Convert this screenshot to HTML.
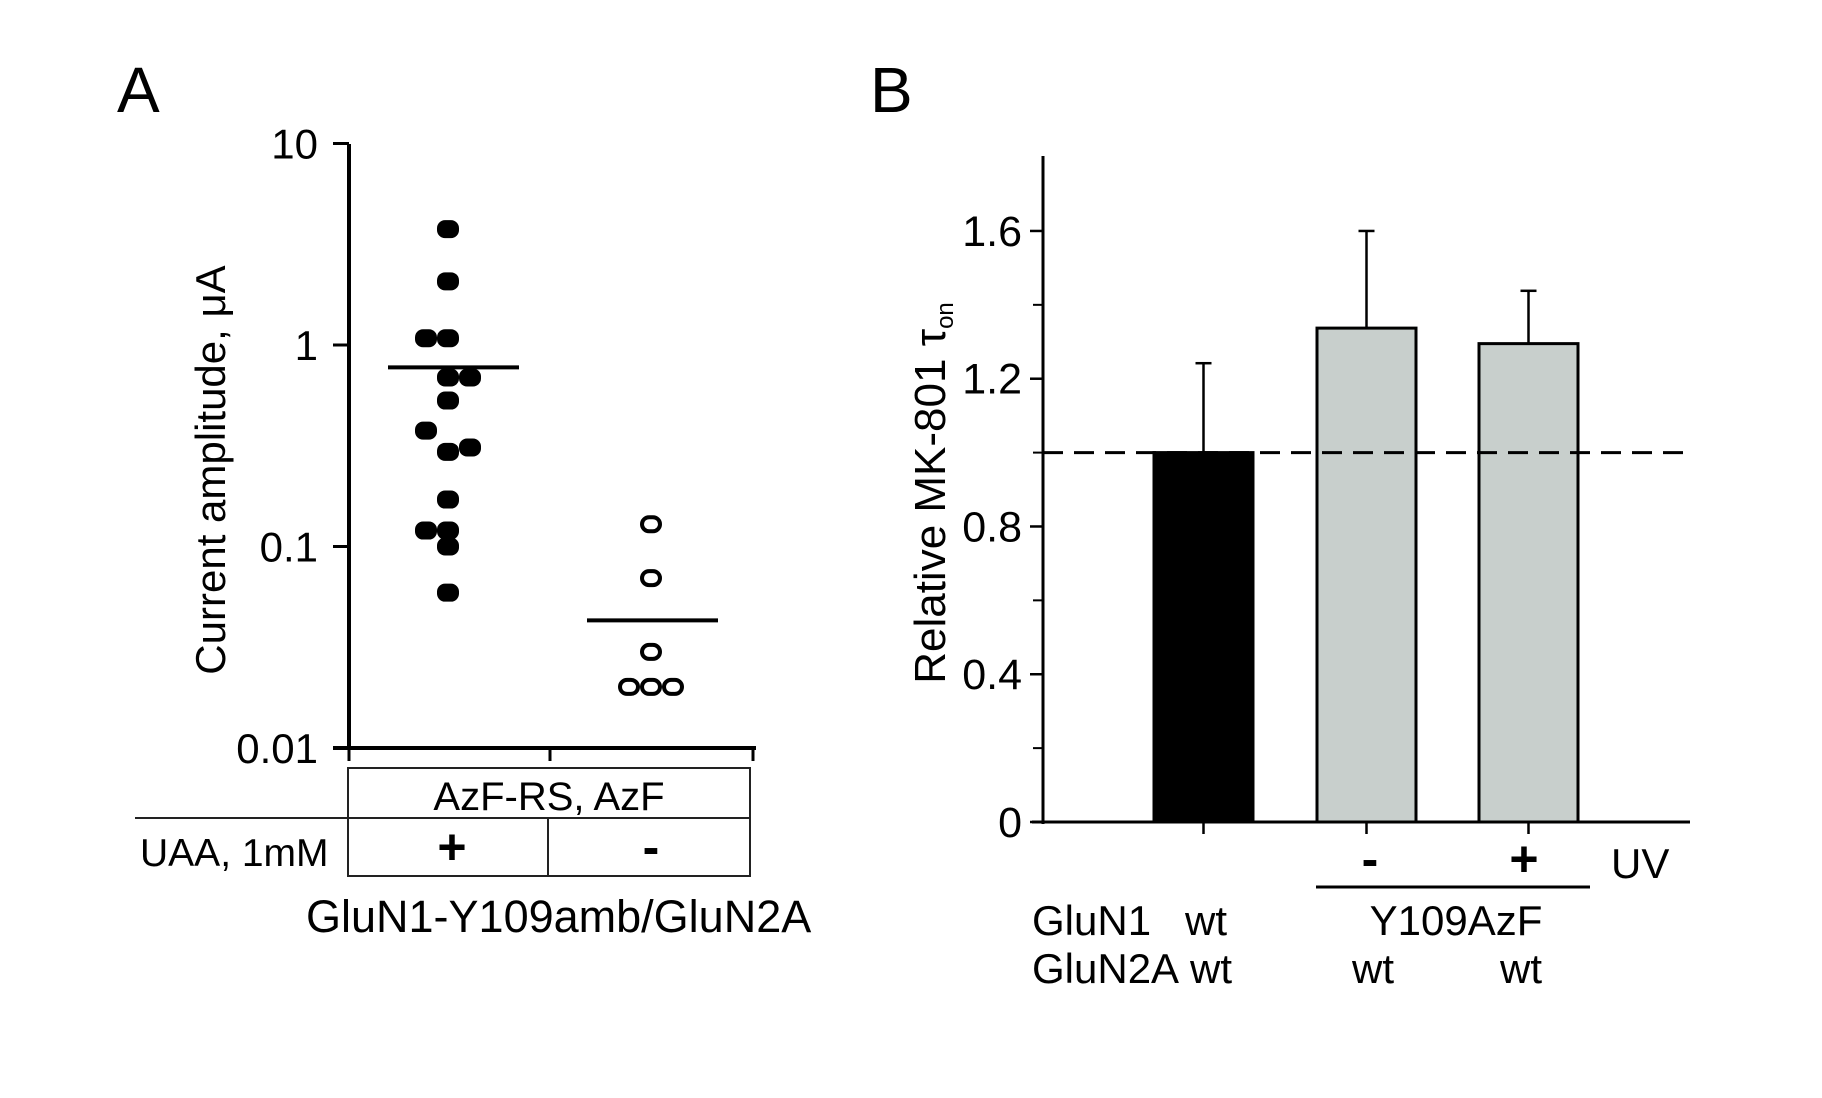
<!DOCTYPE html>
<html><head><meta charset="utf-8"><style>
html,body{margin:0;padding:0;background:#fff;}
svg{display:block;font-family:"Liberation Sans",Arial,sans-serif;}
</style></head><body>
<svg id="fig" width="1822" height="1098" viewBox="0 0 1822 1098">
<text x="117" y="112" font-size="64">A</text>
<text x="870" y="112" font-size="64">B</text>
<g id="pa"></g>
<g id="pb"></g>
</svg>
<script>
// Panel A data (log scale)
const aTicks = [10, 1, 0.1, 0.01];
const aTickLabels = ["10", "1", "0.1", "0.01"];
const aPlusValues = [3.76, 2.07, 1.08, 1.08, 0.69, 0.69, 0.53, 0.376, 0.31, 0.295, 0.171, 0.12, 0.12, 0.1, 0.059];
const aPlusJitter = [0, 0, -1, 0, 0, 1, 0, -1, 1, 0, 0, -1, 0, 0, 0];
const aPlusMean = 0.774;
const aMinusValues = [0.129, 0.0697, 0.03, 0.0201, 0.0201, 0.0201];
const aMinusJitter = [0, 0, 0, -1, 0, 1];
const aMinusMean = 0.043;

// Panel B data
const bCategories = ["wt", "Y109AzF -UV", "Y109AzF +UV"];
const bValues = [1.0, 1.337, 1.295];
const bErrors = [0.242, 0.263, 0.143];
const bTicks = [0, 0.4, 0.8, 1.2, 1.6];
const bTickLabels = ["0", "0.4", "0.8", "1.2", "1.6"];
const bMinorTicks = [0.2, 0.6, 1.0, 1.4];
const bRef = 1.0;

const NS = "http://www.w3.org/2000/svg";
function mk(parent, tag, attrs, text) {
  const e = document.createElementNS(NS, tag);
  for (const k in attrs) e.setAttribute(k, attrs[k]);
  if (text !== undefined) e.textContent = text;
  parent.appendChild(e);
  return e;
}
// ---- Panel A ----
const pa = document.getElementById("pa");
const ya = v => 748 - (Math.log10(v) + 2) * 201.5;
const xPlus = 448, xMinus = 651, jit = 22;
const ay = mk(pa, "line", {x1:349, y1:144, x2:349, y2:750, stroke:"#000", "stroke-width":4});
 
const ax = mk(pa, "line", {x1:333, y1:748, x2:756, y2:748, stroke:"#000", "stroke-width":4});
 
[349, 550, 753].forEach(x => { const t = mk(pa, "line", {x1:x, y1:748, x2:x, y2:761, stroke:"#000", "stroke-width":3});
  });
aTicks.forEach((v, i) => {
  const y = ya(v);
  const t = mk(pa, "line", {x1:333, y1:y, x2:349, y2:y, stroke:"#000", "stroke-width":3});
  
  
  const l = mk(pa, "text", {x:318, y:y+15, "font-size":42, "text-anchor":"end"}, aTickLabels[i]);
  
  
});
const ta = mk(pa, "text", {x:0, y:0, "font-size":42, "text-anchor":"middle", transform:"translate(225,470) rotate(-90)"}, "Current amplitude, μA");


aPlusValues.forEach((v, i) => {
  const p = mk(pa, "rect", {x:xPlus + aPlusJitter[i]*jit - 11, y:ya(v) - 9, width:22, height:18, rx:8, fill:"#000"});
  
  
});
aMinusValues.forEach((v, i) => {
  const p = mk(pa, "rect", {x:xMinus + aMinusJitter[i]*jit - 9, y:ya(v) - 7, width:18, height:14, rx:7, fill:"#fff", stroke:"#000", "stroke-width":4});
  
  
});
const m1 = mk(pa, "line", {x1:388, y1:ya(aPlusMean), x2:519, y2:ya(aPlusMean), stroke:"#000", "stroke-width":4});


const m2 = mk(pa, "line", {x1:587, y1:ya(aMinusMean), x2:718, y2:ya(aMinusMean), stroke:"#000", "stroke-width":4});


// table
const tb = mk(pa, "g", {stroke:"#222", "stroke-width":2, fill:"none"});


mk(tb, "rect", {x:348, y:768, width:402, height:108});
mk(tb, "line", {x1:135, y1:818, x2:750, y2:818});
mk(tb, "line", {x1:548, y1:818, x2:548, y2:876});
const t1 = mk(pa, "text", {x:549, y:810, "font-size":40, "text-anchor":"middle"}, "AzF-RS, AzF");
 
const t2 = mk(pa, "text", {x:140, y:866, "font-size":39}, "UAA, 1mM");
 
const t3 = mk(pa, "text", {x:452, y:864, "font-size":50, "font-weight":"bold", "text-anchor":"middle"}, "+");
 
const t4 = mk(pa, "text", {x:651, y:864, "font-size":50, "font-weight":"bold", "text-anchor":"middle"}, "-");
 
const t5 = mk(pa, "text", {x:306, y:932, "font-size":45}, "GluN1-Y109amb/GluN2A");
 

// ---- Panel B ----
const pb = document.getElementById("pb");
const yb = v => 822 - v * 369.4;
const barX = [1154, 1317, 1479], barW = 99;
const barFill = ["#000", "#c8cfcc", "#c8cfcc"];
const by = mk(pb, "line", {x1:1043, y1:156, x2:1043, y2:824, stroke:"#000", "stroke-width":3});
 
const bx = mk(pb, "line", {x1:1032, y1:822, x2:1690, y2:822, stroke:"#000", "stroke-width":3});
 
bTicks.forEach((v, i) => {
  const y = yb(v);
  const t = mk(pb, "line", {x1:1030, y1:y, x2:1043, y2:y, stroke:"#000", "stroke-width":2.5});
  
  
  const l = mk(pb, "text", {x:1022, y:y+15, "font-size":43, "text-anchor":"end"}, bTickLabels[i]);
  
  
});
bMinorTicks.forEach(v => {
  const t = mk(pb, "line", {x1:1033, y1:yb(v), x2:1043, y2:yb(v), stroke:"#000", "stroke-width":2});
  
  
});
const tb2 = mk(pb, "text", {x:0, y:0, "font-size":44, "text-anchor":"middle", transform:"translate(945,493) rotate(-90)"});


tb2.appendChild(document.createTextNode("Relative MK-801 τ"));
mk(tb2, "tspan", {"font-size":24, dy:8}, "on");
bValues.forEach((v, i) => {
  const cx = barX[i] + barW/2;
  const e = mk(pb, "line", {x1:cx, y1:yb(v), x2:cx, y2:yb(v + bErrors[i]), stroke:"#000", "stroke-width":2.5});
  
  
  const c = mk(pb, "line", {x1:cx-8, y1:yb(v + bErrors[i]), x2:cx+8, y2:yb(v + bErrors[i]), stroke:"#000", "stroke-width":2.5});
  
  
  const b = mk(pb, "rect", {x:barX[i], y:yb(v), width:barW, height:yb(0) - yb(v), fill:barFill[i], stroke:"#000", "stroke-width":3});
  
  
  const t = mk(pb, "line", {x1:cx, y1:822, x2:cx, y2:834, stroke:"#000", "stroke-width":2.5});
  
  
});
const ref = mk(pb, "line", {x1:1043, y1:yb(bRef), x2:1690, y2:yb(bRef), stroke:"#000", "stroke-width":3, "stroke-dasharray":"20 11"});


const labs = [
  ["-", 1370, 876, 50, "uv-minus", "bold", "middle"],
  ["+", 1524, 876, 50, "uv-plus", "bold", "middle"],
  ["UV", 1611, 878, 42, "uv-label", "normal", "start"],
  ["GluN1", 1032, 935, 42, "gluN1-label", "normal", "start"],
  ["wt", 1185, 935, 42, "gluN1-wt", "normal", "start"],
  ["Y109AzF", 1456, 935, 42, "gluN1-y109azf", "normal", "middle"],
  ["GluN2A", 1032, 983, 42, "gluN2a-label", "normal", "start"],
  ["wt", 1190, 983, 42, "gluN2a-wt-1", "normal", "start"],
  ["wt", 1373, 983, 42, "gluN2a-wt-2", "normal", "middle"],
  ["wt", 1521, 983, 42, "gluN2a-wt-3", "normal", "middle"]
];
labs.forEach(l => {
  const t = mk(pb, "text", {x:l[1], y:l[2], "font-size":l[3], "font-weight":l[5], "text-anchor":l[6]}, l[0]);
  
  
});
const ul = mk(pb, "line", {x1:1316, y1:887, x2:1590, y2:887, stroke:"#000", "stroke-width":3});


</script>
</body></html>
